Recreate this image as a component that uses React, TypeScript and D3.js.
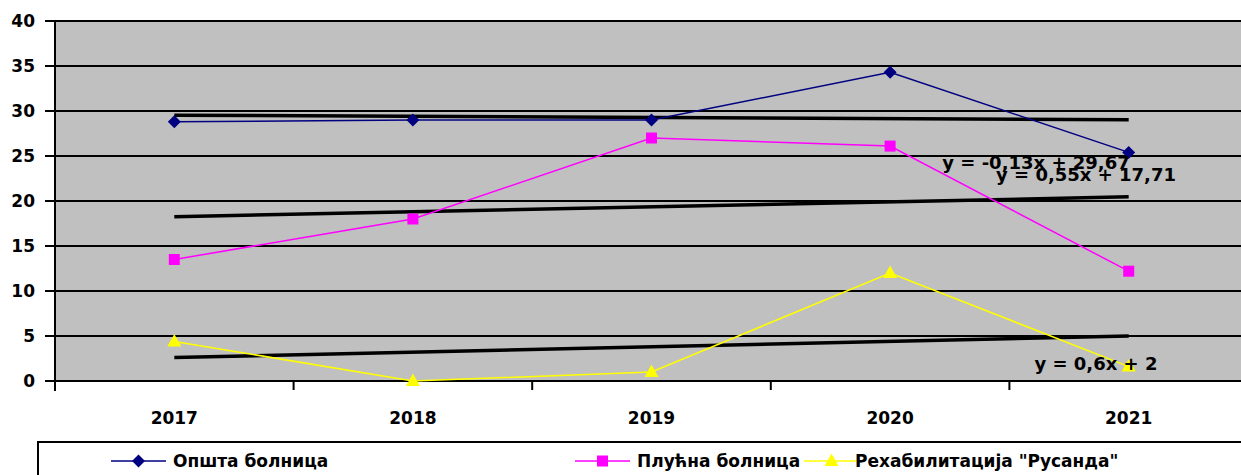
import React from 'react';
import * as d3 from 'd3';

const years = ['2017', '2018', '2019', '2020', '2021'];
const opsta = [28.8, 29, 29, 34.3, 25.4];
const plucna = [13.5, 18, 27, 26.1, 12.2];
const rusanda = [4.4, 0, 1, 12, 1.6];
const yTicks = [0, 5, 10, 15, 20, 25, 30, 35, 40];

// trend lines: y = slope * x + intercept, x = 1..5
const trendSlopes = [-0.13, 0.55, 0.6];
const trendIntercepts = [29.67, 17.71, 2];
const trendLabels = ['y = -0,13x + 29,67', 'y = 0,55x + 17,71', 'y = 0,6x + 2'];

const series = [
  { name: 'Општа болница', values: opsta, color: '#000080', marker: 'diamond' },
  { name: 'Плућна болница', values: plucna, color: '#FF00FF', marker: 'square' },
  { name: 'Рехабилитација "Русанда"', values: rusanda, color: '#FFFF00', marker: 'triangle' },
];

const W = 1241;
const H = 475;
const FONT = "'DejaVu Sans', sans-serif";

function Marker({ type, x, y, color }: { type: string; x: number; y: number; color: string }) {
  if (type === 'diamond') {
    const s = 6.5;
    return <path d={`M${x},${y - s}L${x + s},${y}L${x},${y + s}L${x - s},${y}Z`} fill={color} />;
  }
  if (type === 'square') {
    return <rect x={x - 5.5} y={y - 5.5} width={11} height={11} fill={color} />;
  }
  return <path d={`M${x},${y - 7.5}L${x + 7},${y + 5}L${x - 7},${y + 5}Z`} fill={color} />;
}

export default function App() {
  const left = 55;
  const right = 1248;
  const top = 21;
  const bottom = 381;

  const x = d3.scaleBand().domain(years).range([left, right]);
  const y = d3.scaleLinear().domain([0, 40]).range([bottom, top]);
  const cx = (i: number) => (x(years[i]) as number) + x.bandwidth() / 2;
  // trend x is 1-based index
  const tx = d3.scaleLinear().domain([1, 5]).range([cx(0), cx(4)]);

  const line = d3
    .line<number>()
    .x((_, i) => cx(i))
    .y((d) => y(d));

  const boundaries = years.map((_, i) => left + i * x.bandwidth()).concat([right]);

  const labelPos = [
    { x: 1036, y: 169 },
    { x: 1086, y: 181 },
    { x: 1096, y: 370 },
  ];

  const legendItems = [
    { lx: 111, tx: 173 },
    { lx: 575, tx: 637 },
    { lx: 804, tx: 855 },
  ];

  return (
    <div>
      <style>{`body{margin:0}`}</style>
      <svg width={W} height={H} style={{ display: 'block', background: '#fff' }} fontFamily={FONT}>
        <rect x={left} y={top} width={right - left} height={bottom - top} fill="#C0C0C0" />

        {/* gridlines */}
        {yTicks.map((t) => (
          <line key={t} x1={left - 10} x2={right} y1={y(t)} y2={y(t)} stroke="#000" strokeWidth={2} />
        ))}
        {yTicks.map((t) => (
          <text
            key={'l' + t}
            x={35}
            y={y(t)}
            dy="0.36em"
            textAnchor="end"
            fontSize={17}
            fontWeight="bold"
            fill="#000"
          >
            {t}
          </text>
        ))}

        {/* axes */}
        <line x1={left} x2={left} y1={top} y2={bottom + 10} stroke="#000" strokeWidth={2} />
        {boundaries.map((b, i) => (
          <line key={'b' + i} x1={b} x2={b} y1={bottom} y2={bottom + 9} stroke="#000" strokeWidth={2} />
        ))}
        {years.map((yr, i) => (
          <text key={yr} x={cx(i)} y={424} textAnchor="middle" fontSize={17} fontWeight="bold" fill="#000">
            {yr}
          </text>
        ))}

        {/* trend lines */}
        {trendSlopes.map((s, i) => (
          <line
            key={'t' + i}
            x1={tx(1)}
            x2={tx(5)}
            y1={y(s * 1 + trendIntercepts[i])}
            y2={y(s * 5 + trendIntercepts[i])}
            stroke="#000"
            strokeWidth={3.5}
          />
        ))}

        {/* series */}
        {series.map((s) => (
          <g key={s.name}>
            <path d={line(s.values) as string} fill="none" stroke={s.color} strokeWidth={1.5} />
            {s.values.map((v, i) => (
              <Marker key={i} type={s.marker} x={cx(i)} y={y(v)} color={s.color} />
            ))}
          </g>
        ))}

        {/* trend labels */}
        {trendLabels.map((t, i) => (
          <text
            key={t}
            x={labelPos[i].x}
            y={labelPos[i].y}
            textAnchor="middle"
            fontSize={18}
            fontWeight="bold"
            fill="#000"
          >
            {t}
          </text>
        ))}

        {/* legend */}
        <rect x={38} y={442} width={1260} height={60} fill="#fff" stroke="#000" strokeWidth={2} />
        {series.map((s, i) => (
          <g key={'lg' + i}>
            <line
              x1={legendItems[i].lx}
              x2={legendItems[i].lx + 55}
              y1={461}
              y2={461}
              stroke={s.color}
              strokeWidth={1.5}
            />
            <Marker type={s.marker} x={legendItems[i].lx + 27.5} y={461} color={s.color} />
            <text x={legendItems[i].tx} y={461} dy="0.36em" fontSize={17} fontWeight="bold" fill="#000">
              {s.name}
            </text>
          </g>
        ))}
      </svg>
    </div>
  );
}
